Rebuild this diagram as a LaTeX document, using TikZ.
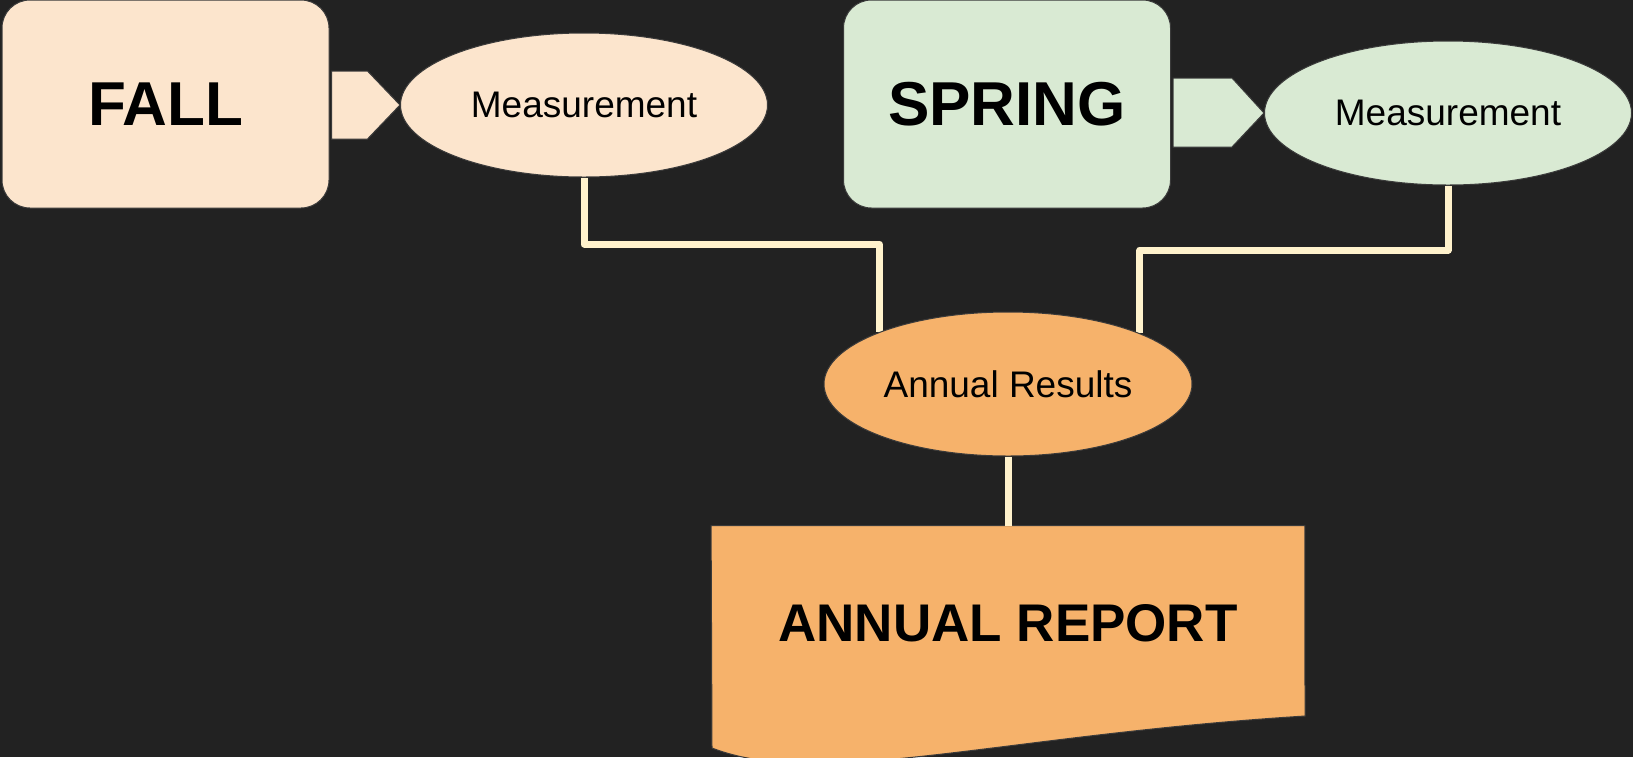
\documentclass[tikz,border=0pt]{standalone}
\usepackage{fontspec}
\setmainfont{Liberation Sans}
\usetikzlibrary{shapes.geometric,calc,backgrounds}
\definecolor{bg}{HTML}{222222}
\definecolor{fallc}{HTML}{FCE5CD}
\definecolor{springc}{HTML}{D9EAD3}
\definecolor{orangec}{HTML}{F6B26B}
\definecolor{linec}{HTML}{FFF2CC}
\definecolor{edgec}{HTML}{3A3A3A}
\begin{document}
\begin{tikzpicture}[x=0.5pt,y=-0.5pt,
  season/.style={rectangle, rounded corners=14pt, draw=edgec, line width=0.5pt,
    minimum width=163.5pt, minimum height=104pt, inner sep=0pt,
    font=\fontsize{31}{37}\selectfont\bfseries},
  meas/.style={ellipse, draw=edgec, line width=0.5pt, minimum width=183.5pt,
    minimum height=72pt, inner sep=0pt, font=\fontsize{18.5}{22}\selectfont},
  link/.style={draw=linec, line width=3.5pt, line join=round},
  tab/.style={draw=edgec, line width=0.5pt}
]
\useasboundingbox (0,0) rectangle (1633,757);

\node[season, fill=fallc] (fall) at (165.5,104) {FALL};
\node[season, fill=springc] (spring) at (1007,104) {SPRING};
\node[meas, fill=fallc] (m1) at (584,105) {Measurement};
\node[meas, fill=springc] (m2) at (1448,113) {Measurement};
\node[meas, fill=orangec, minimum width=184pt] (ar) at (1008,384) {Annual Results};
\node[rectangle, minimum width=296.5pt, minimum height=97pt, inner sep=0pt,
  font=\fontsize{26.5}{32}\selectfont\bfseries] (rep) at (1008,623) {ANNUAL REPORT};

\filldraw[tab, fill=fallc] ($(fall.east)+(2,-33)$) -- ($(fall.east)+(38,-33)$)
  -- (m1.west) -- ($(fall.east)+(38,35)$) -- ($(fall.east)+(2,35)$) -- cycle;
\filldraw[tab, fill=springc] ($(spring.east)+(2,-26)$) -- ($(spring.east)+(61,-26)$)
  -- (m2.west) -- ($(spring.east)+(61,43)$) -- ($(spring.east)+(2,43)$) -- cycle;

\coordinate (y1) at (0,244);
\coordinate (y2) at (0,250);

\begin{pgfonlayer}{background}
  \fill[bg] (0,0) rectangle (1633,757);
  \filldraw[tab, fill=orangec] (rep.north west) -- (rep.north east) -- (1305,716)
    .. controls (1000,735) and (820,790) .. (712,748) -- cycle;
  \draw[link] (m1.south) |- (ar.158.6 |- y1) -- (ar.158.6);
  \draw[link] (m2.south) |- (ar.21.4 |- y2) -- (ar.21.4);
  \draw[link] (ar.south) -- (rep.north);
\end{pgfonlayer}
\end{tikzpicture}
\end{document}
